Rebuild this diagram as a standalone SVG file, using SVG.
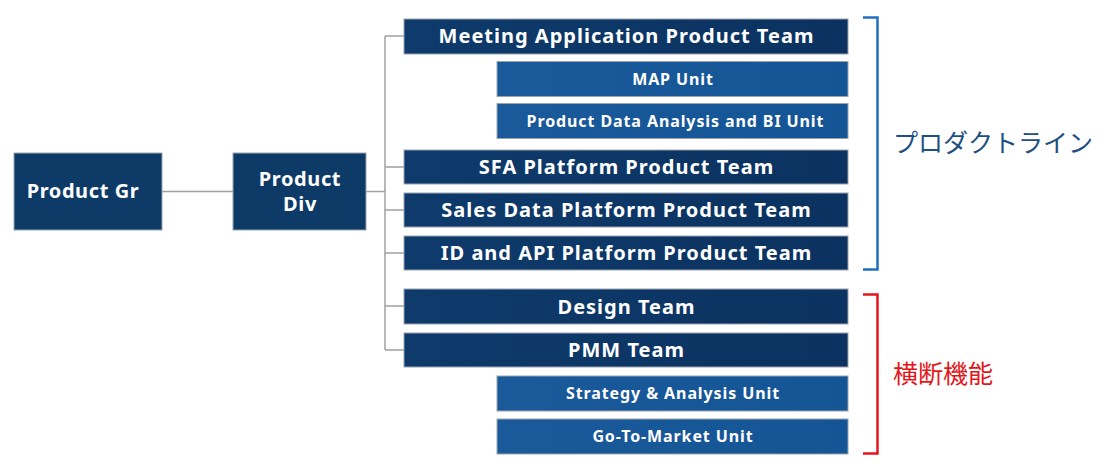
<svg xmlns="http://www.w3.org/2000/svg" width="1111" height="473" viewBox="0 0 1111 473">
<defs>
<linearGradient id="gTeam" x1="0" y1="0" x2="1" y2="0">
<stop offset="0" stop-color="#0e3b6c"/>
<stop offset="1" stop-color="#0b3260"/>
</linearGradient>
<linearGradient id="gUnit" x1="0" y1="0" x2="1" y2="0">
<stop offset="0" stop-color="#1a5a9b"/>
<stop offset="1" stop-color="#145596"/>
</linearGradient>
</defs>
<style>
.team{fill:url(#gTeam);stroke:#9aa3ad;stroke-width:1}
.unit{fill:url(#gUnit);stroke:#9aa3ad;stroke-width:1}
.top{fill:#0e3a68;stroke:#9aa3ad;stroke-width:1}
.t{font-family:"Noto Sans","DejaVu Sans",sans-serif;font-weight:bold;fill:#ffffff;text-anchor:middle}
.tt{font-size:20px;letter-spacing:1px}
.tu{font-size:16px;letter-spacing:0.9px}
.tp{font-size:20px;letter-spacing:0.6px}
.conn{fill:none;stroke:#a0a0a0;stroke-width:1.5}
.jp{font-family:"Noto Sans CJK JP",sans-serif;font-size:25px}
</style>
<rect width="1111" height="473" fill="#ffffff"/>
<g id="connectors">
<path class="conn" d="M162 191.5H233"/>
<path class="conn" d="M366 191.5H385"/>
<path class="conn" d="M385 36V350"/>
<path class="conn" d="M385 36H404M385 167H404M385 210H404M385 253H404M385 306H404M385 350H404"/>
</g>
<g id="product-gr"><rect class="top" x="14" y="153" width="148" height="77"/><text class="t tp" x="83" y="198">Product Gr</text></g>
<g id="product-div"><rect class="top" x="233" y="153" width="133" height="77"/><text class="t tp" x="300" y="186">Product</text><text class="t tp" x="300" y="211">Div</text></g>
<g id="meeting"><rect class="team" x="404" y="19" width="444" height="35"/><text class="t tt" x="626.5" y="43">Meeting Application Product Team</text></g>
<g id="map-unit"><rect class="unit" x="497" y="61.5" width="351" height="35"/><text class="t tu" x="673" y="84.5">MAP Unit</text></g>
<g id="pda-unit"><rect class="unit" x="497" y="103.5" width="351" height="35"/><text class="t tu" x="675.5" y="126.5">Product Data Analysis and BI Unit</text></g>
<g id="sfa"><rect class="team" x="404" y="150" width="444" height="34"/><text class="t tt" x="626.5" y="174">SFA Platform Product Team</text></g>
<g id="sales-data"><rect class="team" x="404" y="193" width="444" height="34"/><text class="t tt" x="626.5" y="217">Sales Data Platform Product Team</text></g>
<g id="id-api"><rect class="team" x="404" y="236" width="444" height="34"/><text class="t tt" x="626.5" y="260">ID and API Platform Product Team</text></g>
<g id="design"><rect class="team" x="404" y="289" width="444" height="35"/><text class="t tt" x="626.5" y="314">Design Team</text></g>
<g id="pmm"><rect class="team" x="404" y="333" width="444" height="34"/><text class="t tt" x="626.5" y="357">PMM Team</text></g>
<g id="strategy-unit"><rect class="unit" x="497" y="376" width="351" height="35"/><text class="t tu" x="673" y="399">Strategy &amp; Analysis Unit</text></g>
<g id="gtm-unit"><rect class="unit" x="497" y="419" width="351" height="35"/><text class="t tu" x="673" y="442">Go-To-Market Unit</text></g>
<g id="bracket-product-line">
<path d="M863 17.5H877.5V269.5H863" fill="none" stroke="#1e6fbf" stroke-width="2.5"/>
<text class="jp" x="893" y="152" fill="#1d4f80">プロダクトライン</text>
</g>
<g id="bracket-cross-functional">
<path d="M863 294.5H877.5V453.5H863" fill="none" stroke="#e3161b" stroke-width="2.5"/>
<text class="jp" x="893" y="383" fill="#e3161b">横断機能</text>
</g>
</svg>
